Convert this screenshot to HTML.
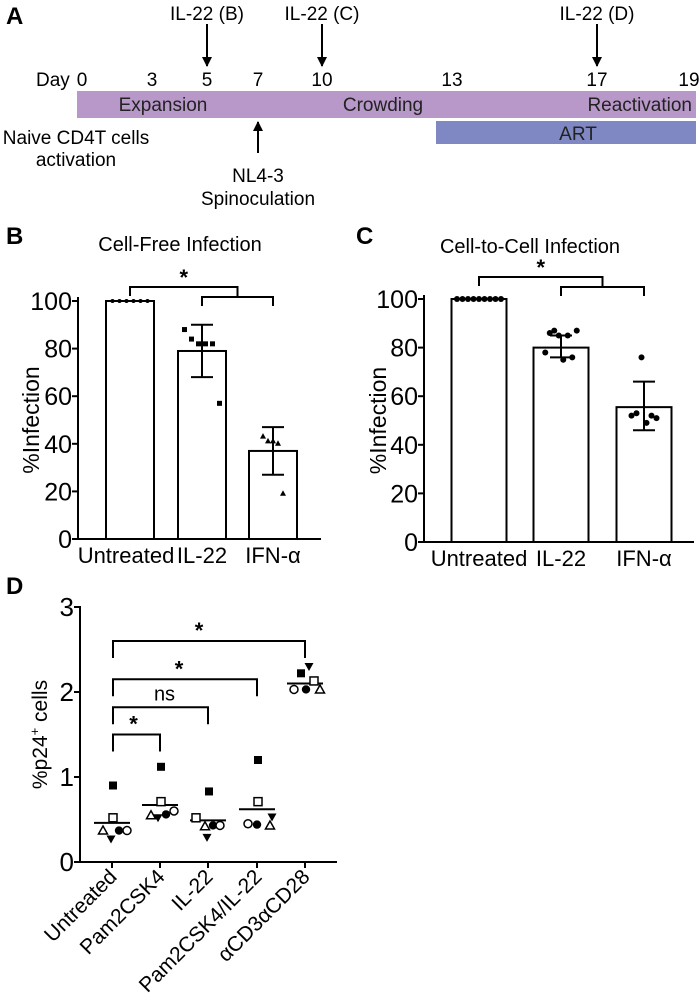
<!DOCTYPE html>
<html><head><meta charset="utf-8">
<style>
body{margin:0;background:#fff}
svg{display:block;font-family:"Liberation Sans",Arial,sans-serif}
</style></head>
<body>
<svg id="fig" width="700" height="1001" viewBox="0 0 700 1001" xmlns="http://www.w3.org/2000/svg">
<defs>
<marker id="ah" viewBox="0 0 10 10" refX="9" refY="5" markerWidth="5" markerHeight="5" orient="auto"><path d="M0,0 L10,5 L0,10 z" fill="#000"/></marker>
</defs>
<g>
<text x="6" y="24" font-size="24" font-weight="bold">A</text>
<rect x="77" y="91" width="619" height="27" fill="#b898c8"/>
<rect x="436" y="121" width="260" height="23" fill="#8088c4"/>
<text x="163" y="111" font-size="19" text-anchor="middle" fill="#222">Expansion</text>
<text x="383" y="111" font-size="19" text-anchor="middle" fill="#222">Crowding</text>
<text x="692" y="111" font-size="19" text-anchor="end" fill="#222">Reactivation</text>
<text x="578" y="140" font-size="19" text-anchor="middle" fill="#222">ART</text>
<text x="36" y="86" font-size="19">Day</text>
<g font-size="19" text-anchor="middle">
<text x="82" y="86">0</text><text x="152" y="86">3</text><text x="207" y="86">5</text><text x="258" y="86">7</text><text x="322" y="86">10</text><text x="452" y="86">13</text><text x="597" y="86">17</text><text x="689" y="86">19</text>
</g>
<g font-size="19" text-anchor="middle">
<text x="207" y="20">IL-22 (B)</text><line x1="207" y1="24" x2="207" y2="66" stroke="#000" stroke-width="2" marker-end="url(#ah)"/>
<text x="322" y="20">IL-22 (C)</text><line x1="322" y1="24" x2="322" y2="66" stroke="#000" stroke-width="2" marker-end="url(#ah)"/>
<text x="597" y="20">IL-22 (D)</text><line x1="597" y1="24" x2="597" y2="66" stroke="#000" stroke-width="2" marker-end="url(#ah)"/>
</g>
<line x1="258" y1="153" x2="258" y2="122" stroke="#000" stroke-width="2" marker-end="url(#ah)"/>
<text x="258" y="182" font-size="19" text-anchor="middle">NL4-3</text>
<text x="258" y="205" font-size="19" text-anchor="middle">Spinoculation</text>
<text x="76" y="144" font-size="19" text-anchor="middle">Naive CD4T cells</text>
<text x="76" y="166" font-size="19" text-anchor="middle">activation</text>
</g>
<g id="pb"></g>
<g id="pc"></g>
<g id="pd"></g>
</svg>
<script>
// Panel B data
const bCats = ["Untreated","IL-22","IFN-\u03b1"];
const bMeans = [100, 79, 37];
const bErrLo = [100, 68, 27];
const bErrHi = [100, 90, 47];
const bPts0 = [100,100,100,100,100,100];
const bPts1 = [88,84,82,82,82,57];
const bPts2 = [43,41,41,40,19];
const bTicks = [0,20,40,60,80,100];
// Panel C data
const cCats = ["Untreated","IL-22","IFN-\u03b1"];
const cMeans = [100, 80, 55.5];
const cErrLo = [100, 76, 46];
const cErrHi = [100, 85, 66];
const cPts0 = [100,100,100,100,100,100,100,100,100];
const cPts1 = [78,86,87,85,75,85,76,87];
const cPts2 = [52,53,76,49,52,51];
const cTicks = [0,20,40,60,80,100];
// Panel D data
const dCats = ["Untreated","Pam2CSK4","IL-22","Pam2CSK4/IL-22","\u03b1CD3\u03b1CD28"];
const dSqFilled = [0.9,1.12,0.83,1.2,2.22];
const dSqOpen = [0.52,0.71,0.52,0.71,2.13];
const dTriOpen = [0.37,0.55,0.42,0.43,2.03];
const dTriInv = [0.27,0.52,0.29,0.53,2.3];
const dCircFilled = [0.37,0.56,0.43,0.44,2.03];
const dCircOpen = [0.37,0.6,0.43,0.45,2.03];
const dMeans = [0.46,0.67,0.49,0.62,2.1];
const dTicks = [0,1,2,3];
const dSig = ["*","ns","*","*"];

const NS="http://www.w3.org/2000/svg";
function mk(parent,tag,attrs,text){const e=document.createElementNS(NS,tag);for(const k in attrs)e.setAttribute(k,attrs[k]);if(text!==undefined)e.textContent=text;parent.appendChild(e);return e;}

function barPanel(g,o){
  const y=v=>o.y0-(v/100)*(o.y0-o.y100);
  let t=mk(g,'text',{x:o.px,y:o.py,'font-size':24,'font-weight':'bold'},o.letter);
  
  t=mk(g,'text',{x:o.tx,y:o.ty,'font-size':20,'text-anchor':'middle'},o.title);
  
  let l=mk(g,'line',{x1:o.ax,y1:o.y100-4,x2:o.ax,y2:o.y0,stroke:'#000','stroke-width':2});
  
  l=mk(g,'line',{x1:o.ax,y1:o.y0,x2:o.axEnd,y2:o.y0,stroke:'#000','stroke-width':2});
  
  o.ticks.forEach(v=>{
    const tl=mk(g,'line',{x1:o.ax-6,y1:y(v),x2:o.ax,y2:y(v),stroke:'#000','stroke-width':2});
    
    const tt=mk(g,'text',{x:o.ax-6,y:y(v)+9,'font-size':25,'text-anchor':'end'},v);
    
  });
  const yl=mk(g,'text',{x:0,y:0,'font-size':23,'text-anchor':'middle',transform:`translate(${o.ylx},${(o.y0+o.y100)/2}) rotate(-90)`},'%Infection');
  
  const pts=[o.p0,o.p1,o.p2];
  o.cats.forEach((c,i)=>{
    const cx=o.bx[i], w=o.bw;
    const r=mk(g,'rect',{x:cx-w/2,y:y(o.means[i]),width:w,height:o.y0-y(o.means[i]),fill:'#fff',stroke:'#000','stroke-width':2});
    
    if(o.hi[i]!==o.lo[i]){
      const eg=mk(g,'g',{stroke:'#000','stroke-width':2});
      
      mk(eg,'line',{x1:cx,y1:y(o.hi[i]),x2:cx,y2:y(o.lo[i])});
      mk(eg,'line',{x1:cx-11,y1:y(o.hi[i]),x2:cx+11,y2:y(o.hi[i])});
      mk(eg,'line',{x1:cx-11,y1:y(o.lo[i]),x2:cx+11,y2:y(o.lo[i])});
    }
    const p=pts[i], n=p.length;
    p.forEach((v,j)=>{
      const px=cx+(j-(n-1)/2)*o.spread[i];
      let m;
      if(o.shape[i]==='sq') m=mk(g,'rect',{x:px-2.5,y:y(v)-2.5,width:5,height:5,fill:'#000'});
      else if(o.shape[i]==='tri') m=mk(g,'path',{d:`M${px},${y(v)-3.5} L${px+3},${y(v)+2} L${px-3},${y(v)+2}Z`,fill:'#000'});
      else m=mk(g,'circle',{cx:px,cy:y(v),r:o.r,fill:'#000'});
      
    });
    const lb=mk(g,'text',{x:cx+(o.lblOff[i]||0),y:o.y0+24,'font-size':22,'text-anchor':'middle'},c);
    
  });
  const bg=mk(g,'g',{stroke:'#000','stroke-width':2,fill:'none'});
  
  const lx1=o.bx[1], lx2=o.bx[2], mid=(lx1+lx2)/2;
  mk(bg,'path',{d:`M${lx1},${o.b2+9} V${o.b2} H${lx2} V${o.b2+9}`});
  mk(bg,'path',{d:`M${o.bx[0]},${o.b1+9} V${o.b1} H${mid} V${o.b2}`});
  const st=mk(g,'text',{x:(o.bx[0]+mid)/2,y:o.b1-2,'font-size':22,'text-anchor':'middle','font-weight':'bold'},'*');
  
}
barPanel(document.getElementById('pb'),{letter:'B',px:6,py:244,title:'Cell-Free Infection',tx:180,ty:251,
 ax:78,axEnd:321,y0:539,y100:301,ticks:bTicks,ylx:39,cats:bCats,means:bMeans,lo:bErrLo,hi:bErrHi,
 p0:bPts0,p1:bPts1,p2:bPts2,bx:[130,202,273],bw:48,spread:[7,7,5],shape:['c','sq','tri'],r:2,
 lblOff:[-4,0,0],b1:287,b2:297});
barPanel(document.getElementById('pc'),{letter:'C',px:356,py:244,title:'Cell-to-Cell Infection',tx:530,ty:253,
 ax:424,axEnd:694,y0:542,y100:299,ticks:cTicks,ylx:386,cats:cCats,means:cMeans,lo:cErrLo,hi:cErrHi,
 p0:cPts0,p1:cPts1,p2:cPts2,bx:[479,561,644],bw:55,spread:[5.5,4.5,5],shape:['c','c','c'],r:3,
 lblOff:[0,0,0],b1:277,b2:287});

(function(){
  const g=document.getElementById('pd');
  const x0=80, xEnd=337, y0=862, unit=85;
  const y=v=>y0-v*unit;
  const cx=[112,160,208,257,305];
  let t=mk(g,'text',{x:6,y:594,'font-size':24,'font-weight':'bold'},'D');
  
  let l=mk(g,'line',{x1:x0,y1:y(3)-1,x2:x0,y2:y0,stroke:'#000','stroke-width':2});
  
  l=mk(g,'line',{x1:x0,y1:y0,x2:xEnd,y2:y0,stroke:'#000','stroke-width':2});
  
  dTicks.forEach(v=>{
    const tl=mk(g,'line',{x1:x0-6,y1:y(v),x2:x0,y2:y(v),stroke:'#000','stroke-width':2});
    
    const tt=mk(g,'text',{x:x0-6,y:y(v)+9,'font-size':26,'text-anchor':'end'},v);
    
  });
  const yl=mk(g,'text',{x:0,y:0,'font-size':21,'text-anchor':'middle',transform:`translate(47,${y(1.5)}) rotate(-90)`});
  
  yl.innerHTML='%p24<tspan font-size="13" dy="-8">+</tspan><tspan dy="8"> cells</tspan>';
  const sets=[[dSqFilled,'sqf'],[dSqOpen,'sqo'],[dTriOpen,'trio'],[dTriInv,'inv'],[dCircFilled,'cf'],[dCircOpen,'co']];
  const offs=[
    [1,1,-9,-1,7,15],[1,1,-9,-2,6,14],[1,-12,-3,-1,5,12],[1,1,13,15,0,-9],[-4,9,15,4,1,-11]];
  cx.forEach((c,i)=>{
    const tk=mk(g,'line',{x1:c,y1:y0,x2:c,y2:y0+6,stroke:'#000','stroke-width':2});
    
    const lb=mk(g,'text',{x:0,y:0,'font-size':21,'text-anchor':'end',transform:`translate(${c+6},${y0+16}) rotate(-45)`},dCats[i]);
    
    const ml=mk(g,'line',{x1:c-18,y1:y(dMeans[i]),x2:c+18,y2:y(dMeans[i]),stroke:'#000','stroke-width':2});
    
    sets.forEach(([arr,shape],k)=>{
      const px=c+offs[i][k], py=y(arr[i]);
      let m;
      if(shape==='sqf') m=mk(g,'rect',{x:px-4,y:py-4,width:8,height:8,fill:'#000'});
      else if(shape==='sqo') m=mk(g,'rect',{x:px-4,y:py-4,width:8,height:8,fill:'#fff',stroke:'#000','stroke-width':1.5});
      else if(shape==='trio') m=mk(g,'path',{d:`M${px},${py-4.5} L${px+4.5},${py+3.5} L${px-4.5},${py+3.5}Z`,fill:'#fff',stroke:'#000','stroke-width':1.5});
      else if(shape==='inv') m=mk(g,'path',{d:`M${px-4.5},${py-3.5} L${px+4.5},${py-3.5} L${px},${py+4.5}Z`,fill:'#000'});
      else if(shape==='cf') m=mk(g,'circle',{cx:px,cy:py,r:4.2,fill:'#000'});
      else m=mk(g,'circle',{cx:px,cy:py,r:4,fill:'#fff',stroke:'#000','stroke-width':1.5});
      
    });
  });
  const lv=[1.5,1.82,2.15,2.6];
  lv.forEach((v,k)=>{
    const xr=cx[k+1], xl=cx[0]+1;
    const b=mk(g,'path',{d:`M${xl},${y(v-0.2)} V${y(v)} H${xr} V${y(v-0.2)}`,fill:'none',stroke:'#000','stroke-width':2});
    
    const s=dSig[k];
    const tx=mk(g,'text',{x:(xl+xr)/2-(k===3?10:k===2?6:k===1?-4:3),y:y(v)-(s==='*'?3:7),'font-size':s==='*'?22:20,'text-anchor':'middle','font-weight':s==='*'?'bold':'normal'},s);
    
  });
})();
</script>
</body></html>
